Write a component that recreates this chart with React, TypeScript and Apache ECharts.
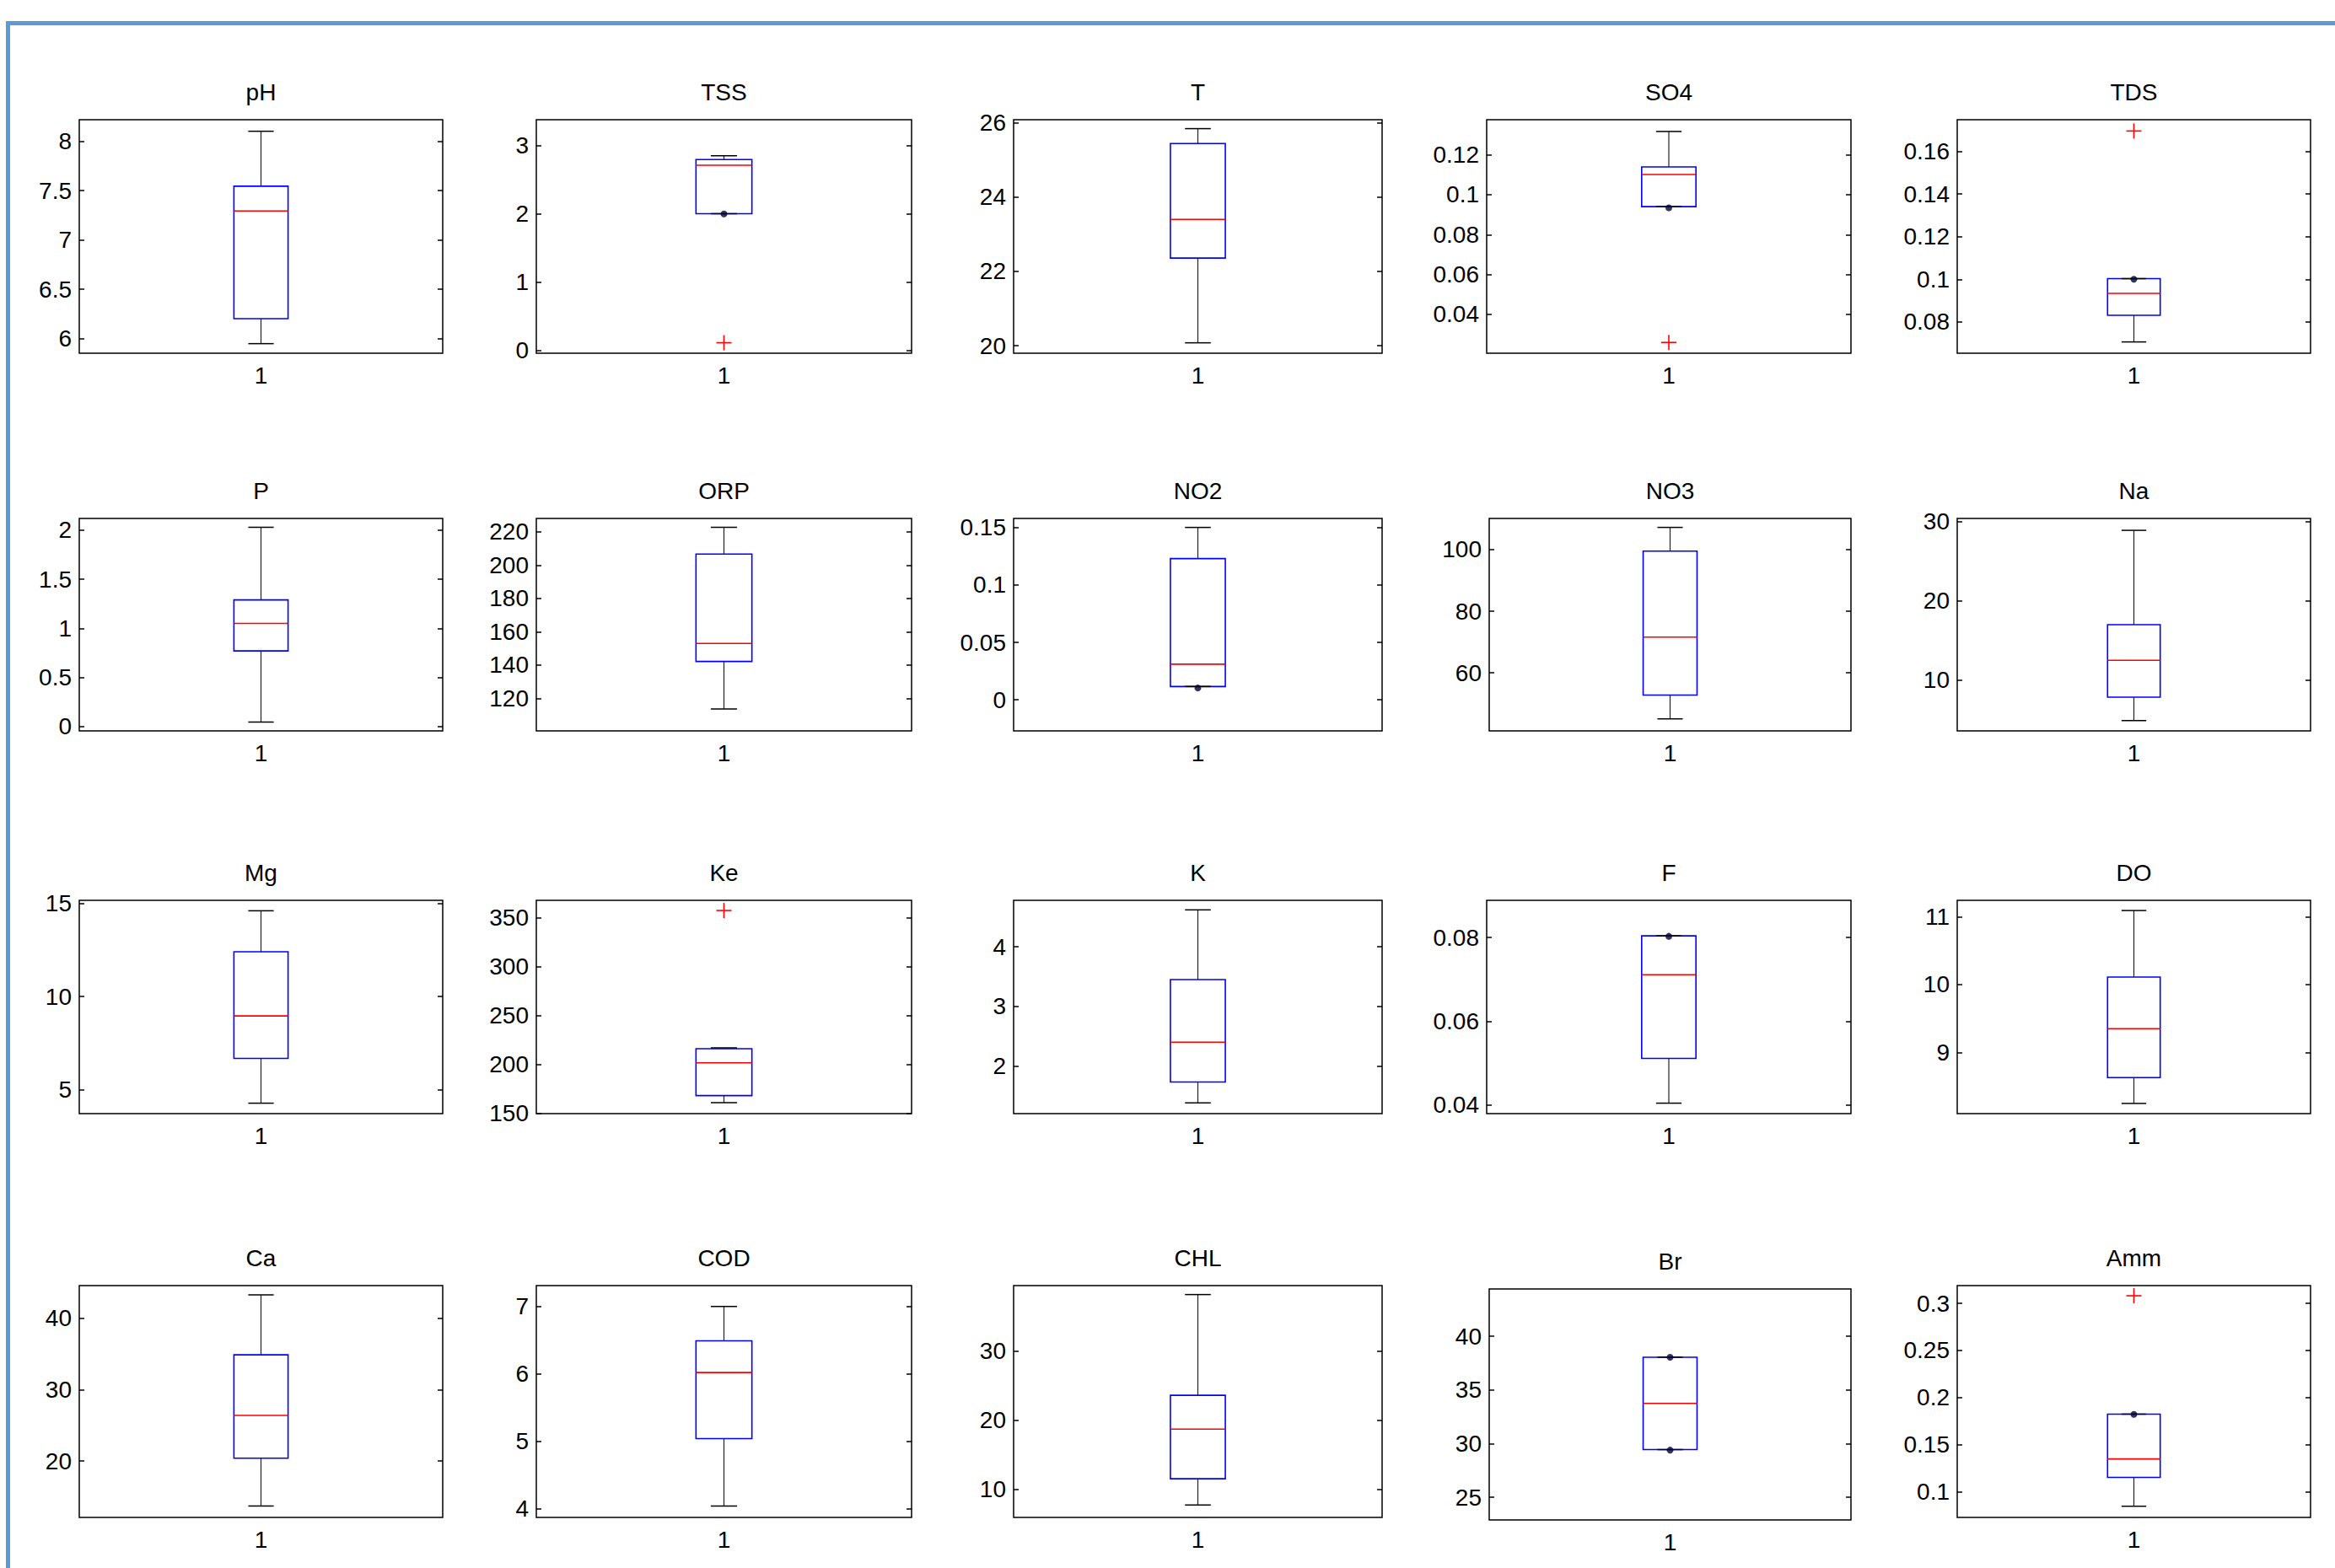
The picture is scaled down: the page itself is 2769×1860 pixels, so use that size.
import React, { useEffect, useRef } from 'react';
import * as echarts from 'echarts';

// ---------------- data ----------------
const names = ['pH', 'TSS', 'T', 'SO4', 'TDS', 'P', 'ORP', 'NO2', 'NO3', 'Na', 'Mg', 'Ke', 'K', 'F', 'DO', 'Ca', 'COD', 'CHL', 'Br', 'Amm'];
const whiskerLow = [5.949, 2.004, 20.08, 0.094, 0.0706, 0.045, 113.6, 0.0116, 45.1, 4.9, 4.28, 160.7, 1.38, 0.0404, 8.25, 13.7, 4.04, 7.7, 29.45, 0.0844];
const quartile1 = [6.202, 2.004, 22.36, 0.094, 0.0831, 0.77, 142.1, 0.0116, 52.8, 7.85, 6.68, 168, 1.73, 0.0511, 8.63, 20.4, 5.04, 11.5, 29.45, 0.115];
const medians = [7.294, 2.714, 23.4, 0.1101, 0.0934, 1.05, 152.9, 0.031, 71.6, 12.5, 8.96, 201.5, 2.4, 0.0711, 9.35, 26.4, 6.02, 18.7, 33.75, 0.1347];
const quartile3 = [7.545, 2.796, 25.44, 0.1139, 0.1003, 1.29, 206.6, 0.1229, 99.5, 17.0, 12.4, 216, 3.45, 0.0804, 10.11, 34.9, 6.49, 23.6, 38.05, 0.1823];
const whiskerHigh = [8.102, 2.853, 25.84, 0.1317, 0.1003, 2.03, 222.7, 0.15, 107.2, 28.9, 14.6, 216.8, 4.62, 0.0804, 11.09, 43.3, 7.0, 38.2, 38.05, 0.1823];
const outliers: number[][] = [[], [0.114], [], [0.0259], [0.1696], [], [], [], [], [], [], [357.6], [], [], [], [], [], [], [], [0.3081]];
const dots: number[][] = [[], [2.0], [], [0.0934], [0.1], [], [], [0.0103], [], [], [], [], [], [0.0803], [], [], [], [], [38.05, 29.4], [0.182]];
const axisMin = [5.852, -0.04, 19.8, 0.0205, 0.0653, -0.045, 100.4, -0.027, 41.2, 3.6, 3.72, 149.5, 1.2, 0.0379, 8.1, 12.1, 3.87, 5.9, 22.9, 0.0725];
const axisMax = [8.219, 3.38, 26.08, 0.1376, 0.1749, 2.12, 228, 0.1578, 110.1, 30.4, 15.16, 368, 4.78, 0.0889, 11.24, 44.6, 7.31, 39.5, 44.4, 0.3189];
const yTicks: number[][] = [
  [6, 6.5, 7, 7.5, 8],
  [0, 1, 2, 3],
  [20, 22, 24, 26],
  [0.04, 0.06, 0.08, 0.1, 0.12],
  [0.08, 0.1, 0.12, 0.14, 0.16],
  [0, 0.5, 1, 1.5, 2],
  [120, 140, 160, 180, 200, 220],
  [0, 0.05, 0.1, 0.15],
  [60, 80, 100],
  [10, 20, 30],
  [5, 10, 15],
  [150, 200, 250, 300, 350],
  [2, 3, 4],
  [0.04, 0.06, 0.08],
  [9, 10, 11],
  [20, 30, 40],
  [4, 5, 6, 7],
  [10, 20, 30],
  [25, 30, 35, 40],
  [0.1, 0.15, 0.2, 0.25, 0.3],
];
const xTickLabels = ['1'];

// ---------------- layout ----------------
const colLeft = [94, 636, 1202, 1763, 2321];
const colRight = [525, 1081, 1639, 2195, 2740];
const rowTop = [142, 615, 1068, 1525];
const rowBottom = [419, 867, 1321, 1800];
const FONT = 'Arial, "Liberation Sans", Helvetica, sans-serif';
const FONT_SIZE = 28;
const BOX_HALF = 0.0745;
const CAP_HALF = 0.035;

function panelRect(i: number) {
  const r = Math.floor(i / 5);
  const c = i % 5;
  let left = colLeft[c];
  let top = rowTop[r];
  let bottom = rowBottom[r];
  const right = colRight[c];
  if (names[i] === 'NO3') left = 1766;
  if (names[i] === 'Br') { left = 1766; top = 1529; bottom = 1803; }
  return { left, top, right, bottom };
}

function renderBox(params: any, api: any) {
  const x = api.value(0);
  const lo = api.value(1);
  const q1 = api.value(2);
  const med = api.value(3);
  const q3 = api.value(4);
  const hi = api.value(5);
  const band = api.size([1, 0])[0];
  const cx = api.coord([x, med])[0];
  const y = (v: number) => api.coord([x, v])[1];
  const hw = band * BOX_HALF;
  const cw = band * CAP_HALF;
  const whisker = { stroke: '#222', lineWidth: 1.2 };
  const cap = { stroke: '#000', lineWidth: 1.5 };
  return {
    type: 'group',
    children: [
      { type: 'rect', shape: { x: cx - hw, y: y(q3), width: 2 * hw, height: y(q1) - y(q3) }, style: { fill: 'none', stroke: '#0000ff', lineWidth: 1.6 } },
      { type: 'line', shape: { x1: cx, y1: y(q3), x2: cx, y2: y(hi) }, style: whisker },
      { type: 'line', shape: { x1: cx, y1: y(q1), x2: cx, y2: y(lo) }, style: whisker },
      { type: 'line', shape: { x1: cx - cw, y1: y(hi), x2: cx + cw, y2: y(hi) }, style: cap },
      { type: 'line', shape: { x1: cx - cw, y1: y(lo), x2: cx + cw, y2: y(lo) }, style: cap },
      { type: 'line', shape: { x1: cx - hw, y1: y(med), x2: cx + hw, y2: y(med) }, style: { stroke: '#ff0000', lineWidth: 1.6 } },
    ],
  };
}

function renderPlus(params: any, api: any) {
  const p = api.coord([api.value(0), api.value(1)]);
  const s = 9;
  const st = { stroke: '#ff0000', lineWidth: 1.6 };
  return {
    type: 'group',
    children: [
      { type: 'line', shape: { x1: p[0] - s, y1: p[1], x2: p[0] + s, y2: p[1] }, style: st },
      { type: 'line', shape: { x1: p[0], y1: p[1] - s, x2: p[0], y2: p[1] + s }, style: st },
    ],
  };
}

function buildOption() {
  const grid: any[] = [];
  const xAxis: any[] = [];
  const yAxis: any[] = [];
  const series: any[] = [];
  const graphic: any[] = [
    { type: 'rect', shape: { x: 7, y: 25, width: 5, height: 1835 }, style: { fill: '#5b9bd5' }, silent: true },
    { type: 'rect', shape: { x: 7, y: 25, width: 2762, height: 5 }, style: { fill: '#5b9bd5' }, silent: true },
  ];
  const labelStyle = { fontSize: FONT_SIZE, color: '#000', fontFamily: FONT };
  names.forEach((name, i) => {
    const { left, top, right, bottom } = panelRect(i);
    grid.push({ left, top, width: right - left, height: bottom - top, show: true, borderColor: '#000', borderWidth: 1.5, backgroundColor: 'transparent' });
    xAxis.push({
      type: 'category', gridIndex: i, data: xTickLabels, boundaryGap: true,
      axisLine: { show: false }, axisTick: { show: false }, splitLine: { show: false },
      axisLabel: { ...labelStyle, margin: 12 },
    });
    const tickStyle = { show: true, inside: true, length: 6, lineStyle: { color: '#000', width: 1.5 }, customValues: yTicks[i] };
    yAxis.push({
      type: 'value', gridIndex: i, position: 'left', min: axisMin[i], max: axisMax[i],
      axisLine: { show: false }, splitLine: { show: false }, axisTick: tickStyle,
      axisLabel: { ...labelStyle, margin: 9, customValues: yTicks[i], formatter: (v: number) => String(v) },
    });
    yAxis.push({
      type: 'value', gridIndex: i, position: 'right', min: axisMin[i], max: axisMax[i],
      axisLine: { show: false }, splitLine: { show: false }, axisTick: tickStyle,
      axisLabel: { show: false },
    });
    series.push({
      type: 'custom', name, xAxisIndex: i, yAxisIndex: 2 * i, clip: false, silent: true,
      encode: { x: 0, y: [1, 2, 3, 4, 5] },
      data: [[0, whiskerLow[i], quartile1[i], medians[i], quartile3[i], whiskerHigh[i]]],
      renderItem: renderBox,
    });
    if (outliers[i].length) {
      series.push({
        type: 'custom', name: name + ' outliers', xAxisIndex: i, yAxisIndex: 2 * i, clip: false, silent: true,
        encode: { x: 0, y: 1 },
        data: outliers[i].map((v) => [0, v]),
        renderItem: renderPlus,
      });
    }
    if (dots[i].length) {
      series.push({
        type: 'scatter', name: name + ' points', xAxisIndex: i, yAxisIndex: 2 * i, silent: true,
        data: dots[i].map((v) => [0, v]), symbol: 'circle', symbolSize: 8, itemStyle: { color: '#000033' }, z: 5,
      });
    }
    graphic.push({
      type: 'text', x: (left + right) / 2, y: top - 33, silent: true,
      style: { text: name, fontSize: FONT_SIZE, fontFamily: FONT, fill: '#000', align: 'center', verticalAlign: 'middle' },
    });
  });
  return { animation: false, backgroundColor: '#fff', grid, xAxis, yAxis, series, graphic };
}

export default function App() {
  const ref = useRef<HTMLDivElement>(null);
  useEffect(() => {
    if (!ref.current) return;
    const chart = echarts.init(ref.current, undefined, { renderer: 'svg' });
    chart.setOption(buildOption() as any);
    return () => chart.dispose();
  }, []);
  return <div ref={ref} style={{ position: 'fixed', left: 0, top: 0, width: 2769, height: 1860, background: '#fff' }} />;
}
